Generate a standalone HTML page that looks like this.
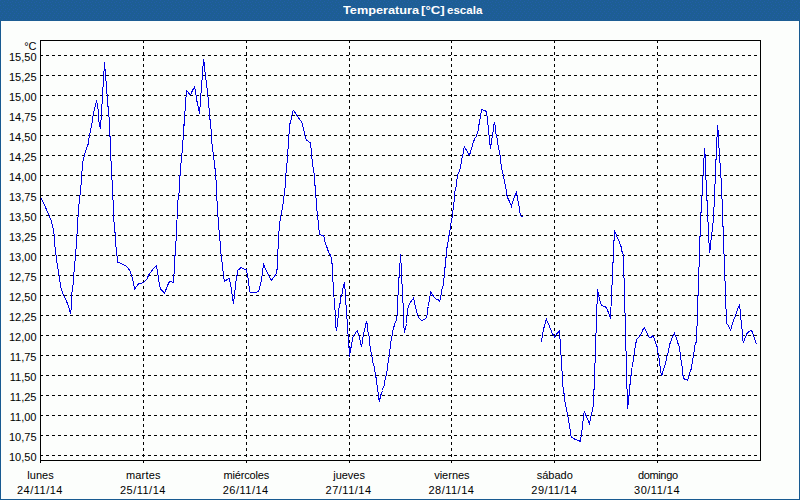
<!DOCTYPE html>
<html><head><meta charset="utf-8"><style>
html,body{margin:0;padding:0;background:#fff;}
body{width:800px;height:500px;overflow:hidden;position:relative;font-family:"Liberation Sans",sans-serif;}
#title{position:absolute;left:0;top:0;width:800px;height:21px;background:#1d5e94;}
#title span{position:absolute;top:4px;transform-origin:0 0;font:bold 11px "Liberation Sans",sans-serif;color:#fff;white-space:nowrap;line-height:13px;}
#frame{position:absolute;left:0;top:21px;width:798px;height:478px;border-left:1px solid #185a91;border-right:1px solid #185a91;border-bottom:1px solid #185a91;background:#fcfefc;}
svg{position:absolute;left:0;top:0;}
</style></head><body>
<div id="title"><svg width="800" height="21" style="position:absolute;left:0;top:0"><defs><pattern id="dots" patternUnits="userSpaceOnUse" width="8" height="21"><g fill="#225da8"><rect x="0" y="0" width="1" height="1"/><rect x="4" y="1" width="1" height="1"/><rect x="2" y="2" width="1" height="1"/><rect x="7" y="2" width="1" height="1"/><rect x="3" y="4" width="1" height="1"/><rect x="0" y="5" width="1" height="1"/><rect x="5" y="5" width="1" height="1"/><rect x="3" y="7" width="1" height="1"/><rect x="7" y="8" width="1" height="1"/><rect x="1" y="9" width="1" height="1"/><rect x="5" y="9" width="1" height="1"/><rect x="0" y="11" width="1" height="1"/><rect x="4" y="11" width="1" height="1"/><rect x="2" y="13" width="1" height="1"/><rect x="6" y="13" width="1" height="1"/><rect x="1" y="15" width="1" height="1"/><rect x="5" y="15" width="1" height="1"/><rect x="0" y="17" width="1" height="1"/><rect x="4" y="17" width="1" height="1"/><rect x="2" y="19" width="1" height="1"/><rect x="6" y="19" width="1" height="1"/></g></pattern></defs><rect width="800" height="20" fill="url(#dots)"/></svg><span style="left:343px;transform:scaleX(1.155)">Temperatura</span><span style="left:421px;transform:scaleX(1.2)">[°C]</span><span style="left:447px;transform:scaleX(1.05)">escala</span></div>
<div id="frame"></div>
<svg width="800" height="500" viewBox="0 0 800 500">
<g stroke="#000" stroke-width="1" stroke-dasharray="3 3" shape-rendering="crispEdges">
<line x1="40" y1="55.5" x2="760" y2="55.5"/>
<line x1="40" y1="75.5" x2="760" y2="75.5"/>
<line x1="40" y1="95.5" x2="760" y2="95.5"/>
<line x1="40" y1="115.5" x2="760" y2="115.5"/>
<line x1="40" y1="135.5" x2="760" y2="135.5"/>
<line x1="40" y1="155.5" x2="760" y2="155.5"/>
<line x1="40" y1="175.5" x2="760" y2="175.5"/>
<line x1="40" y1="195.5" x2="760" y2="195.5"/>
<line x1="40" y1="215.5" x2="760" y2="215.5"/>
<line x1="40" y1="235.5" x2="760" y2="235.5"/>
<line x1="40" y1="255.5" x2="760" y2="255.5"/>
<line x1="40" y1="275.5" x2="760" y2="275.5"/>
<line x1="40" y1="295.5" x2="760" y2="295.5"/>
<line x1="40" y1="315.5" x2="760" y2="315.5"/>
<line x1="40" y1="335.5" x2="760" y2="335.5"/>
<line x1="40" y1="355.5" x2="760" y2="355.5"/>
<line x1="40" y1="375.5" x2="760" y2="375.5"/>
<line x1="40" y1="395.5" x2="760" y2="395.5"/>
<line x1="40" y1="415.5" x2="760" y2="415.5"/>
<line x1="40" y1="435.5" x2="760" y2="435.5"/>
<line x1="40" y1="455.5" x2="760" y2="455.5"/>
<line x1="143.5" y1="40" x2="143.5" y2="460"/>
<line x1="246.5" y1="40" x2="246.5" y2="460"/>
<line x1="349.5" y1="40" x2="349.5" y2="460"/>
<line x1="451.5" y1="40" x2="451.5" y2="460"/>
<line x1="554.5" y1="40" x2="554.5" y2="460"/>
<line x1="657.5" y1="40" x2="657.5" y2="460"/>
</g>
<g stroke="#000" stroke-width="1" fill="none" shape-rendering="crispEdges">
<rect x="40.5" y="40.5" width="720" height="420"/>
<line x1="40.5" y1="460" x2="40.5" y2="463"/>
<line x1="143.5" y1="460" x2="143.5" y2="463"/>
<line x1="246.5" y1="460" x2="246.5" y2="463"/>
<line x1="349.5" y1="460" x2="349.5" y2="463"/>
<line x1="451.5" y1="460" x2="451.5" y2="463"/>
<line x1="554.5" y1="460" x2="554.5" y2="463"/>
<line x1="657.5" y1="460" x2="657.5" y2="463"/>
</g>
<g fill="none" stroke="#0000e6" stroke-width="1" stroke-linejoin="miter" shape-rendering="crispEdges">
<polyline points="41,198 44.9,206 49,215 51.1,220.5 53.2,228.8 54.3,235.7 54.6,244 55.7,252.4 57.3,264.8 59.4,277.3 60.8,287 62.6,293 66.3,300.7 69.5,309 70.3,313.5 71.5,307.5 71.5,295 73.2,284.2 73.9,273.1 75,260.7 76,249.7 76.6,240 77.7,223.3 78.3,211.6 79.4,199.8 80.8,188 81.6,176.4 82.4,165.2 83.5,158.3 87.2,146 88.4,143.75 88.75,138.75 89.7,135 90.6,128.1 91.6,127.5 91.75,123.1 92.5,122.5 92.8,118.1 93.4,113.1 94.5,109.4 95.5,104.4 96.6,101.25 97.5,105.6 98.4,111.9 98.4,117.5 99.4,124.4 100.3,128.75 100.6,120.6 101.6,119.4 101.6,104.4 102.5,103.1 102.6,87.5 103.4,86.6 103.4,71.25 104.4,70.6 104.4,62.2 105,69.4 105.6,70 105.6,80.6 106.6,81.25 106.6,93.75 107.5,94.4 107.8,106.25 108.75,107.2 108.9,116 109.4,119.4 109.4,136.25 110.3,136.9 110.9,158.3 111.8,179 112.5,183.3 112.8,195.7 113.2,204 113.6,216.4 114.6,230.2 115.6,235.7 115.7,244 116.4,251 117.2,256.9 117.5,262.2 120,263.1 122.5,264.4 125.3,265.6 126.9,266.9 128.4,268.75 130,270.9 130.9,273.75 131.6,276.25 132.5,278.75 133.1,281.9 134.6,289 136.9,286 138.75,283.75 141.25,283.1 143.4,282.8 145.3,280.6 147.2,278.75 148.4,275.6 150,273.1 151.6,270.9 153.75,268.4 156.25,265.6 157.3,269.8 158.6,279.5 160.4,289.2 162,290.5 163.5,292 164.5,293 165.5,291 166.5,288 167.5,285.5 168.5,283.5 169.5,281.75 171,281.5 172.25,282.25 173.25,282.5 173.5,275 174.25,274 174.5,255.5 175.5,255 175.5,249 176.2,238 177,220 177.5,206.2 178.4,195.2 179.3,192.4 179.8,178.5 180.7,166.1 182.1,152.3 183.1,138.5 183.9,124.7 184.5,125 184.5,111.5 185.5,110.5 185.5,97.5 186.5,96.5 186.5,90.25 187.5,91.25 188.5,92.75 189.75,94.25 190.75,94.5 191.5,92.5 192.5,90.5 193.5,88.5 194.5,87.25 195.5,90.25 195.75,94.5 196.5,96 196.75,101 197.5,102 197.5,105.5 198.5,106.5 198.75,110 199.5,113.5 199.75,107.5 200.5,106.5 200.5,93.5 201.5,92.5 201.5,80.5 202.5,79.5 202.5,66.25 203.4,65.5 203.4,59.25 204.5,64.5 204.5,71.5 205.5,72.25 205.5,79.5 206.5,80.5 206.5,87.5 207.5,88.5 207.5,96.5 208.5,97.25 208.5,107.5 209.5,108.5 209.5,119 210.5,120 210.5,125 211.1,130.2 211.8,142.6 213.2,153.6 214.5,163.3 215.6,174.3 216.2,182.8 216.6,195.2 217.6,210.4 218.7,227 219.8,238 220.5,249 221.4,257.4 222.8,268.5 223.5,276.7 224.5,281.2 226.3,280.2 229,278.4 230.4,283.6 231.8,291.9 233.4,304.4 234.5,294.7 235.9,282.3 236.5,276.5 237.25,275 237.25,271 238.25,270 240,268.5 241.25,267.25 242.25,268.25 243.5,268.5 245,269.5 246.25,269.75 246.5,272 247.5,273.5 247.75,277.5 248.5,279.5 248.7,284.3 250.2,292.6 256.3,292.6 258.8,291.2 260.9,282.3 262.3,274 263.4,264.3 265.7,269.2 268.5,274.7 271.2,280.6 274,276.7 276.5,273.7 277.4,266.4 277.9,254.7 278.1,244 279.2,228.8 280.2,219.2 281.6,212.3 283,204 284.3,194.3 285.3,186 285.7,177.8 286.5,165 286.5,163.5 287.6,162.6 287.6,149.4 288.7,148.5 288.7,135 289.4,133.2 289.4,124.2 290.5,123 290.7,120.3 291.5,119.1 291.8,115.8 292.4,114.6 292.5,112.2 293.3,110.4 294.8,112.2 296,114 297.2,115.8 298.4,117.6 299.6,119.4 300.8,120.6 301.7,121.8 302.3,123.6 302.6,126 303.2,127.8 303.8,130.2 304.4,132 304.7,135 305.3,137.3 306.4,140 308.5,141.4 310.1,142.8 311,148.3 311.5,155.2 312.4,162.1 313.3,169 314.3,175 314.7,183.3 315.7,190.2 316.1,199.8 316.8,208.1 317.5,216.4 318.4,223.3 319.5,234.4 323,235.5 324.4,237.8 325.3,244 326.2,245 328.5,251.9 330.6,255.4 331.7,260.2 332.6,269.8 332.6,281.3 333.4,282.2 333.75,295 334.4,301 334.5,309.7 335.3,310.3 335.6,323.75 336.4,331.4 337.8,320.6 338.4,312.5 339.5,304.4 340.3,303.1 340.6,298.1 341.4,295 342.2,293.75 342.5,289.4 343.4,286.9 344.5,282.2 344.7,288.75 345.6,290 345.6,304.4 346.6,305.6 346.75,318.75 347.5,320 347.8,334 348.6,334.9 348.75,346.75 349.4,348.6 349.6,356.75 350,353 350.9,348 351.6,344.9 352.5,339.25 353.4,335.5 354.4,334.6 355.9,332.4 357.4,330.5 358.1,333.6 359.1,336.1 360,339.9 361.6,347.4 362.2,342.4 363.1,336.1 364.1,331.75 365.9,324 366.6,321.25 367.5,325 367.8,331 369.1,336.75 369.5,340.5 370.1,347.4 370.9,351.75 371.9,355.5 372.5,361.25 374.4,366.9 375.3,373.75 376.5,380 376.5,384.5 377.25,385 377.5,391.5 378.25,392.25 378.5,397.5 379.5,401.5 380,398.5 381.25,393.5 382.5,390.5 383.5,386.5 384.5,385 384.75,381.25 385.6,377.5 386.9,371.9 387.8,365 388.75,357.5 389.4,355.6 389.4,351 390.6,347.5 390.9,341.25 391.9,336.25 392.5,332.5 393.4,328.1 394.4,325.6 395.6,321.25 396.6,320 397.5,311 397.8,295 398.4,294.4 398.4,280 398.75,278.75 399.5,275 399.4,263.1 400,263.1 400.3,254 400.6,262.5 401.6,264.4 401.6,283.4 402.5,284.4 402.7,302.5 403.5,303.5 403.5,322 404.4,332.5 405.3,329.4 406.5,323.5 406.75,318 407.5,312.5 408.25,306.5 409.5,303.5 411.5,301 413.4,298.4 414.5,302 415,305 416,309 416.75,312.5 418,316 419.5,318.5 421,320 422,320.5 424,319.5 426.25,318 427.25,314 427.5,308.5 428.5,306.5 429,302 429.75,300 430.3,291.5 432.5,295 434.4,297.5 436.25,299 438.1,299.7 439.4,301.25 440.6,298.1 441.25,293.75 441.6,290.6 442.8,286.25 443.4,284.4 443.75,278.1 444.5,276.9 444.5,268.1 445.3,267.5 445.3,258.1 446.4,257.5 446.4,248.1 447.2,247.5 448.1,241.25 448.4,235.9 449.4,235.3 449.7,230.3 450.6,229.4 450.9,223.75 451.6,218.75 452.5,217.5 452.5,210.6 453.4,209.4 453.6,202.5 454.5,201.25 454.7,195.6 455.3,187.5 456.4,186.9 456.6,181.25 457.4,177.5 458.1,173.1 459.4,171.9 459.7,169.4 460.6,168.1 461.25,161 462.5,156.25 463.1,153.75 463.4,150 464.4,147.2 465.9,149.4 467.5,151.9 469.5,155.3 470.3,152.5 471.6,148.1 472.5,145 473.4,141.9 475,138.1 476.6,135.9 477.5,132.5 478.4,130 478.4,125 479.5,124.4 479.5,119.4 480.3,118.75 480.5,113.4 481.4,112.5 481.4,109.4 482.5,109.4 483.1,110.3 484.7,110.3 485.6,111.25 486.6,111.6 486.75,116 487.5,116.6 487.6,124.4 488.6,125.3 488.6,134.4 489.25,135.6 489.4,143.75 490.3,144.7 490.5,148.75 491.1,144.4 491.9,138.75 492.5,135 493.1,131.9 493.4,126.9 494.4,123.1 495.6,126.9 495.6,131 496.25,135.6 497.5,139.4 498.1,145.6 499.4,151.25 500.3,156.25 500.6,161 501.25,166.25 502.5,171.9 503.4,175.6 504.4,181.25 505.3,186 505.9,188.1 506.6,193.75 507.5,197.5 509.4,201.25 511.4,206.25 512.5,202.5 513.75,198.75 515,195.6 516.6,192.2 517.2,195.6 518.1,201.25 518.5,205 519.5,207.5 519.5,212.5 520.25,213.5 520.5,215.5 521.5,216.5 522.5,216.5 523.5,217.5"/>
<polyline points="541.4,341.6 541.9,338.75 542.8,336.25 543.1,330.6 544.4,326.25 545.3,322.5 546.4,319.4 547.5,321.9 549.1,325.6 550.6,329.4 552.2,333.1 553.75,335.6 554.5,337.5 555.9,335 557.5,333.1 559.4,331.25 559.7,338.4 560.6,339.4 560.6,354.4 561.25,355.6 561.6,370.6 562.5,371.25 562.5,386.25 563.4,387.2 564.4,397.5 564.7,401.25 565.5,402.5 565.9,406.9 566.6,407.5 566.9,411.9 567.5,413.75 567.8,416.9 568.75,418.1 568.75,422.5 569.7,423.75 570,429 570.6,430 570.9,435.6 571.6,437.2 573.1,438.1 575,439.4 576.9,440 578.75,440.6 580.3,441.6 580.6,438.1 581.6,435.6 581.9,430 582.5,428.75 582.8,423.1 583.75,415.6 584.25,411.25 585,413.1 586.9,417.5 588.1,420 589.4,424.4 590.3,420 590.9,416.25 591.6,413.75 592.5,410.6 592.8,407.5 593.75,406.25 593.6,390 594.5,389 594.5,365 595.4,361 595.3,333.75 596.4,332.8 596.5,304.5 597.5,303.75 597.5,289.4 598.1,292.5 598.75,295.6 599.7,300 600.5,303.5 601.5,305 603.5,306.25 605.5,307 606.75,308 607.5,310 608.5,313 609.75,315.5 610.5,318.5 610.5,315 610.6,307.5 611.5,306.5 611.6,285.6 612.5,284.4 612.5,263 613.5,262.5 613.5,241 614.5,240.5 614.5,230 615,232 616,234 616.75,236 617.5,238 618.5,240 619.5,242 620.25,244.5 621,246.5 621.5,250 622,251.5 622.5,253.5 623.5,255 623.5,275 624.4,280 624.5,312.5 625.5,313.5 625.5,350.6 626.4,351.25 626.4,388.75 627.5,389.4 627.5,408.5 628.25,403.5 628.5,396 629.5,395 629.5,385 630.5,384.4 630.6,375.6 631.5,375 631.6,368.1 632.5,367.5 632.6,362.5 633.4,361.25 634.4,351 635.3,346.9 635.9,343.1 636.6,339.4 638.1,337.8 640,335.6 641.6,332.5 643.1,329.4 644.5,327.8 645.6,329.7 646.9,332.5 648.1,335 649.4,337.8 650.9,337.5 652.8,335.9 654.1,338.1 655,340.6 656.25,344.4 657.2,346.9 657.5,351 658.4,355 659.1,358.75 659.4,365.6 660.6,366.9 660.9,372.5 661.6,376.25 662.5,373.1 663.75,368.75 665,365 665.9,361.25 666.6,357.5 667.5,355 668.1,352.5 668.75,350 669.4,345 670.6,341.9 672.5,336.9 674.4,333.1 675.6,336.25 676.9,340 678.1,343.75 679.4,347.5 680,351.9 680.3,359.4 681.25,360.6 681.5,365 682.5,367.25 682.5,375 683.25,376 683.25,378.25 684.5,379 686,379.5 687.5,380.5 688.25,378.5 688.5,376 689.25,374.5 690,372.5 690.5,370.5 691.25,369 691.5,367 692.5,361.25 693.1,357.5 693.4,356 694.4,350 695.3,343.1 696.25,342.5 696.6,326.25 697.5,325 697.5,296.25 698.4,295 698.4,267.5 699.4,266.6 699.4,237.2 700.5,236 700.5,213.1 701.6,212.2 701.6,195.6 702.5,194.4 702.8,176.25 703.4,175 703.4,158.4 704.5,157.8 704.5,148.1 705.5,159 705.5,179.4 706.5,180.3 706.5,200 707.5,201.25 707.5,221.25 708.4,222.2 708.4,242.5 709.4,243.4 709.4,253.4 710.3,248.75 710.6,240.6 711.6,239.7 711.6,232.5 712.5,231.9 712.5,223.4 713.6,222.5 713.6,207.5 714.4,206.6 714.4,184.4 715.5,183.75 715.5,160 716.6,159.4 716.6,137.5 717.5,136.25 717.5,125 718.4,133.1 718.75,147.5 719.4,148.1 719.4,162.5 720.5,163.1 720.5,177.5 721.6,178.4 721.6,198.75 722.5,199.4 722.5,226.25 723.6,227.2 723.4,253.4 724.4,254.4 724.4,280.3 725.5,281.25 725.5,308.4 726.5,309.4 726.5,323.75 727.5,324.7 728.75,326.25 730,328.75 730.5,331 731.6,326.9 732.5,323.75 733.4,320.6 734.7,317.5 735.6,315.6 736.6,312.5 737.5,309.4 738.4,307.5 739.4,305.3 740,308.75 740.6,310.6 740.6,319.4 741.6,320.3 741.6,328.4 742.5,329.4 742.5,338.1 743.4,343.1 744.4,340 745.3,337.5 746.25,335.3 747.2,333.1 748.75,331.6 750.3,330.9 751.6,330.3 752.2,331.9 753.1,334.4 754.1,337.5 755.3,341.25 756.6,344.4"/>
</g>
<g font-family="Liberation Sans, sans-serif" font-size="11" fill="#000" text-anchor="end">
<text x="36.5" y="50">°C</text>
<text x="36.5" y="61">15,50</text>
<text x="36.5" y="81">15,25</text>
<text x="36.5" y="101">15,00</text>
<text x="36.5" y="121">14,75</text>
<text x="36.5" y="141">14,50</text>
<text x="36.5" y="161">14,25</text>
<text x="36.5" y="181">14,00</text>
<text x="36.5" y="201">13,75</text>
<text x="36.5" y="221">13,50</text>
<text x="36.5" y="241">13,25</text>
<text x="36.5" y="261">13,00</text>
<text x="36.5" y="281">12,75</text>
<text x="36.5" y="301">12,50</text>
<text x="36.5" y="321">12,25</text>
<text x="36.5" y="341">12,00</text>
<text x="36.5" y="361">11,75</text>
<text x="36.5" y="381">11,50</text>
<text x="36.5" y="401">11,25</text>
<text x="36.5" y="421">11,00</text>
<text x="36.5" y="441">10,75</text>
<text x="36.5" y="461">10,50</text>
</g>
<g font-family="Liberation Sans, sans-serif" font-size="11" fill="#000" text-anchor="middle">
<text x="40.5" y="479">lunes</text>
<text x="40.0" y="494" letter-spacing="0.5">24/11/14</text>
<text x="143.3" y="479" letter-spacing="0.2">martes</text>
<text x="142.9" y="494" letter-spacing="0.5">25/11/14</text>
<text x="246.3" y="479" letter-spacing="-0.15">miércoles</text>
<text x="245.7" y="494" letter-spacing="0.5">26/11/14</text>
<text x="349.1" y="479">jueves</text>
<text x="348.6" y="494" letter-spacing="0.5">27/11/14</text>
<text x="451.9" y="479">viernes</text>
<text x="451.4" y="494" letter-spacing="0.5">28/11/14</text>
<text x="554.8" y="479">sábado</text>
<text x="554.3" y="494" letter-spacing="0.5">29/11/14</text>
<text x="657.8" y="479" letter-spacing="-0.35">domingo</text>
<text x="657.1" y="494" letter-spacing="0.5">30/11/14</text>
</g>
</svg>
</body></html>
